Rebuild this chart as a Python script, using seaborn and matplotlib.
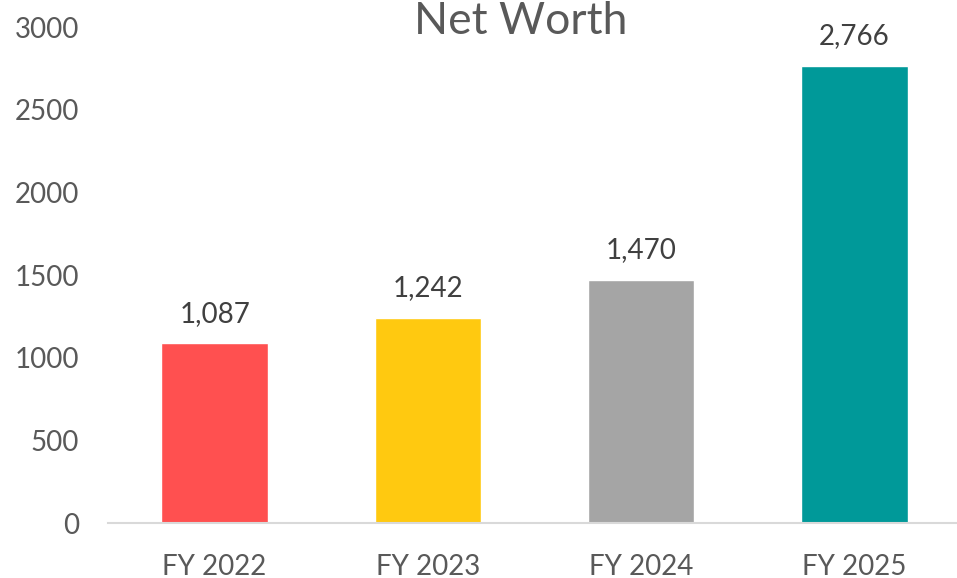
import matplotlib
matplotlib.use("Agg")
import matplotlib.pyplot as plt
import seaborn as sns
import pandas as pd

categories = ["FY 2022", "FY 2023", "FY 2024", "FY 2025"]
values = [1087, 1242, 1470, 2766]
bar_colors = ["#FF5050", "#FFC910", "#A5A5A5", "#009999"]
yticks = [0, 500, 1000, 1500, 2000, 2500, 3000]
title = "Net Worth"

sns.set_style("white")
plt.rcParams['font.family'] = ['Lato', 'DejaVu Sans']

df = pd.DataFrame({"cat": categories, "val": values})

fig = plt.figure(figsize=(9.57, 5.78), dpi=100)
ax = fig.add_axes([108/957, 55/578, 853/957, (523-27.4)/578])

sns.barplot(data=df, x="cat", y="val", hue="cat", palette=bar_colors,
            legend=False, width=0.5, ax=ax, saturation=1)

ax.set_xlim(-0.5, 3.5)
ax.set_ylim(0, 3000)
ax.set_yticks(yticks)
ax.set_yticklabels([str(t) for t in yticks])
ax.set_xlabel("")
ax.set_ylabel("")

for s in ["top", "right", "left"]:
    ax.spines[s].set_visible(False)
ax.spines["bottom"].set_color("#D9D9D9")
ax.spines["bottom"].set_linewidth(1.5)

ax.tick_params(axis="y", length=0, pad=21, labelsize=20, labelcolor="#595959")
ax.tick_params(axis="x", length=0, pad=22, labelsize=20, labelcolor="#595959")

for i, v in enumerate(values):
    ax.annotate(f"{v:,}", (i, v), xytext=(0, 12), textcoords="offset points",
                ha="center", va="bottom", fontsize=20, color="#404040")

fig.text(521/957, 1 - 1/578, title, ha="center", va="top",
         fontsize=32, color="#595959")

fig.savefig("out.png", dpi=100)
